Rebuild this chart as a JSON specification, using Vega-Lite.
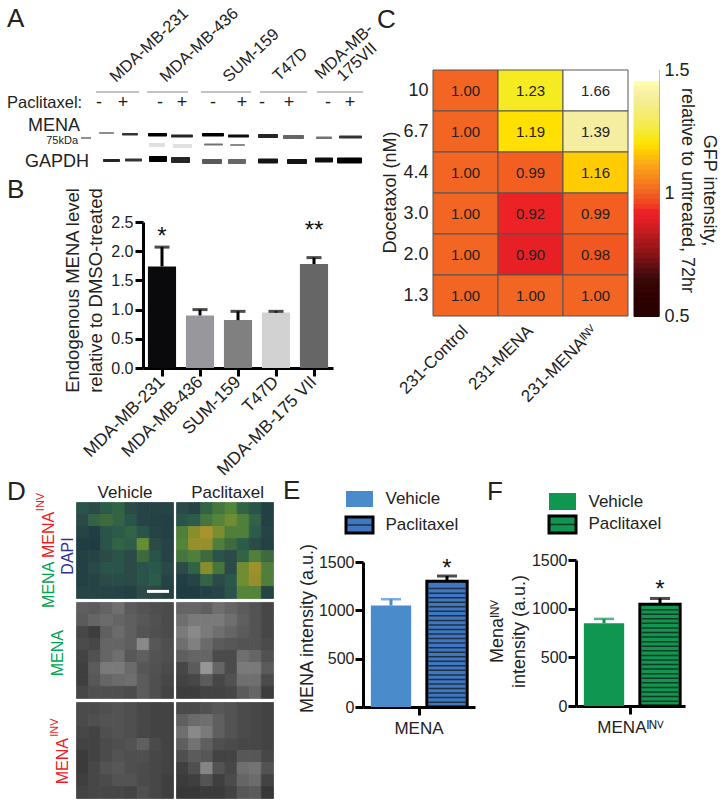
{"$schema":"https://vega.github.io/schema/vega-lite/v6.json","padding":0,"autosize":{"type":"pad"},"background":"white","bounds":"flush","spacing":0,
"config":{"view":{"stroke":null},"font":"Liberation Sans","text":{"font":"Liberation Sans","color":"#222"},"axis":{"grid":false,"labelOverlap":false,"labelFont":"Liberation Sans","titleFont":"Liberation Sans","titleFontWeight":"normal","labelColor":"#222","titleColor":"#222","domainColor":"#000","tickColor":"#000"},"title":{"font":"Liberation Sans","fontWeight":"normal","color":"#222","fontSize":26,"anchor":"start","frame":"group","offset":0,"baseline":"alphabetic"}},
"datasets":{
"colorImgs":[{"c":0,"r":0,"v":35},{"c":1,"r":0,"v":30},{"c":2,"r":0,"v":40},{"c":3,"r":0,"v":45},{"c":4,"r":0,"v":30},{"c":5,"r":0,"v":25},{"c":6,"r":0,"v":25},{"c":7,"r":0,"v":25},{"c":0,"r":1,"v":30},{"c":1,"r":1,"v":45},{"c":2,"r":1,"v":50},{"c":3,"r":1,"v":45},{"c":4,"r":1,"v":35},{"c":5,"r":1,"v":25},{"c":6,"r":1,"v":22},{"c":7,"r":1,"v":22},{"c":0,"r":2,"v":25},{"c":1,"r":2,"v":20},{"c":2,"r":2,"v":35},{"c":3,"r":2,"v":40},{"c":4,"r":2,"v":45},{"c":5,"r":2,"v":35},{"c":6,"r":2,"v":25},{"c":7,"r":2,"v":22},{"c":0,"r":3,"v":20},{"c":1,"r":3,"v":18},{"c":2,"r":3,"v":35},{"c":3,"r":3,"v":45},{"c":4,"r":3,"v":42},{"c":5,"r":3,"v":68},{"c":6,"r":3,"v":30},{"c":7,"r":3,"v":25},{"c":0,"r":4,"v":22},{"c":1,"r":4,"v":25},{"c":2,"r":4,"v":30},{"c":3,"r":4,"v":35},{"c":4,"r":4,"v":30},{"c":5,"r":4,"v":50},{"c":6,"r":4,"v":35},{"c":7,"r":4,"v":25},{"c":0,"r":5,"v":22},{"c":1,"r":5,"v":28},{"c":2,"r":5,"v":35},{"c":3,"r":5,"v":35},{"c":4,"r":5,"v":30},{"c":5,"r":5,"v":35},{"c":6,"r":5,"v":38},{"c":7,"r":5,"v":28},{"c":0,"r":6,"v":22},{"c":1,"r":6,"v":25},{"c":2,"r":6,"v":30},{"c":3,"r":6,"v":32},{"c":4,"r":6,"v":30},{"c":5,"r":6,"v":35},{"c":6,"r":6,"v":40},{"c":7,"r":6,"v":25},{"c":0,"r":7,"v":25},{"c":1,"r":7,"v":25},{"c":2,"r":7,"v":25},{"c":3,"r":7,"v":25},{"c":4,"r":7,"v":22},{"c":5,"r":7,"v":30},{"c":6,"r":7,"v":28},{"c":7,"r":7,"v":22},
{"c":8.25,"r":0,"v":30},{"c":9.25,"r":0,"v":25},{"c":10.25,"r":0,"v":45},{"c":11.25,"r":0,"v":55},{"c":12.25,"r":0,"v":62},{"c":13.25,"r":0,"v":45},{"c":14.25,"r":0,"v":35},{"c":15.25,"r":0,"v":22},{"c":8.25,"r":1,"v":35},{"c":9.25,"r":1,"v":40},{"c":10.25,"r":1,"v":55},{"c":11.25,"r":1,"v":62},{"c":12.25,"r":1,"v":70},{"c":13.25,"r":1,"v":60},{"c":14.25,"r":1,"v":45},{"c":15.25,"r":1,"v":22},{"c":8.25,"r":2,"v":60},{"c":9.25,"r":2,"v":75},{"c":10.25,"r":2,"v":85},{"c":11.25,"r":2,"v":72},{"c":12.25,"r":2,"v":60},{"c":13.25,"r":2,"v":60},{"c":14.25,"r":2,"v":40},{"c":15.25,"r":2,"v":25},{"c":8.25,"r":3,"v":62},{"c":9.25,"r":3,"v":78},{"c":10.25,"r":3,"v":78},{"c":11.25,"r":3,"v":60},{"c":12.25,"r":3,"v":50},{"c":13.25,"r":3,"v":40},{"c":14.25,"r":3,"v":30},{"c":15.25,"r":3,"v":22},{"c":8.25,"r":4,"v":55},{"c":9.25,"r":4,"v":60},{"c":10.25,"r":4,"v":50},{"c":11.25,"r":4,"v":35},{"c":12.25,"r":4,"v":30},{"c":13.25,"r":4,"v":45},{"c":14.25,"r":4,"v":60},{"c":15.25,"r":4,"v":50},{"c":8.25,"r":5,"v":30},{"c":9.25,"r":5,"v":45},{"c":10.25,"r":5,"v":75},{"c":11.25,"r":5,"v":55},{"c":12.25,"r":5,"v":30},{"c":13.25,"r":5,"v":70},{"c":14.25,"r":5,"v":80},{"c":15.25,"r":5,"v":60},{"c":8.25,"r":6,"v":20},{"c":9.25,"r":6,"v":25},{"c":10.25,"r":6,"v":45},{"c":11.25,"r":6,"v":30},{"c":12.25,"r":6,"v":38},{"c":13.25,"r":6,"v":70},{"c":14.25,"r":6,"v":78},{"c":15.25,"r":6,"v":60},{"c":8.25,"r":7,"v":18},{"c":9.25,"r":7,"v":18},{"c":10.25,"r":7,"v":22},{"c":11.25,"r":7,"v":25},{"c":12.25,"r":7,"v":35},{"c":13.25,"r":7,"v":62},{"c":14.25,"r":7,"v":62},{"c":15.25,"r":7,"v":25}],
"greyImgs":[{"c":0,"r":8.33,"v":42},{"c":1,"r":8.33,"v":40},{"c":2,"r":8.33,"v":44},{"c":3,"r":8.33,"v":50},{"c":4,"r":8.33,"v":40},{"c":5,"r":8.33,"v":36},{"c":6,"r":8.33,"v":34},{"c":7,"r":8.33,"v":32},{"c":0,"r":9.33,"v":40},{"c":1,"r":9.33,"v":45},{"c":2,"r":9.33,"v":48},{"c":3,"r":9.33,"v":45},{"c":4,"r":9.33,"v":42},{"c":5,"r":9.33,"v":38},{"c":6,"r":9.33,"v":35},{"c":7,"r":9.33,"v":32},{"c":0,"r":10.33,"v":30},{"c":1,"r":10.33,"v":25},{"c":2,"r":10.33,"v":42},{"c":3,"r":10.33,"v":48},{"c":4,"r":10.33,"v":42},{"c":5,"r":10.33,"v":36},{"c":6,"r":10.33,"v":34},{"c":7,"r":10.33,"v":32},{"c":0,"r":11.33,"v":32},{"c":1,"r":11.33,"v":30},{"c":2,"r":11.33,"v":45},{"c":3,"r":11.33,"v":45},{"c":4,"r":11.33,"v":42},{"c":5,"r":11.33,"v":62},{"c":6,"r":11.33,"v":38},{"c":7,"r":11.33,"v":34},{"c":0,"r":12.33,"v":28},{"c":1,"r":12.33,"v":35},{"c":2,"r":12.33,"v":45},{"c":3,"r":12.33,"v":50},{"c":4,"r":12.33,"v":38},{"c":5,"r":12.33,"v":42},{"c":6,"r":12.33,"v":36},{"c":7,"r":12.33,"v":34},{"c":0,"r":13.33,"v":26},{"c":1,"r":13.33,"v":40},{"c":2,"r":13.33,"v":55},{"c":3,"r":13.33,"v":55},{"c":4,"r":13.33,"v":48},{"c":5,"r":13.33,"v":38},{"c":6,"r":13.33,"v":35},{"c":7,"r":13.33,"v":32},{"c":0,"r":14.33,"v":26},{"c":1,"r":14.33,"v":38},{"c":2,"r":14.33,"v":45},{"c":3,"r":14.33,"v":48},{"c":4,"r":14.33,"v":50},{"c":5,"r":14.33,"v":40},{"c":6,"r":14.33,"v":34},{"c":7,"r":14.33,"v":30},{"c":0,"r":15.33,"v":30},{"c":1,"r":15.33,"v":34},{"c":2,"r":15.33,"v":34},{"c":3,"r":15.33,"v":34},{"c":4,"r":15.33,"v":32},{"c":5,"r":15.33,"v":40},{"c":6,"r":15.33,"v":34},{"c":7,"r":15.33,"v":28},
{"c":8.25,"r":8.33,"v":45},{"c":9.25,"r":8.33,"v":45},{"c":10.25,"r":8.33,"v":42},{"c":11.25,"r":8.33,"v":50},{"c":12.25,"r":8.33,"v":45},{"c":13.25,"r":8.33,"v":40},{"c":14.25,"r":8.33,"v":36},{"c":15.25,"r":8.33,"v":30},{"c":8.25,"r":9.33,"v":50},{"c":9.25,"r":9.33,"v":55},{"c":10.25,"r":9.33,"v":55},{"c":11.25,"r":9.33,"v":55},{"c":12.25,"r":9.33,"v":50},{"c":13.25,"r":9.33,"v":42},{"c":14.25,"r":9.33,"v":36},{"c":15.25,"r":9.33,"v":30},{"c":8.25,"r":10.33,"v":55},{"c":9.25,"r":10.33,"v":62},{"c":10.25,"r":10.33,"v":55},{"c":11.25,"r":10.33,"v":50},{"c":12.25,"r":10.33,"v":45},{"c":13.25,"r":10.33,"v":40},{"c":14.25,"r":10.33,"v":36},{"c":15.25,"r":10.33,"v":30},{"c":8.25,"r":11.33,"v":50},{"c":9.25,"r":11.33,"v":58},{"c":10.25,"r":11.33,"v":48},{"c":11.25,"r":11.33,"v":40},{"c":12.25,"r":11.33,"v":38},{"c":13.25,"r":11.33,"v":36},{"c":14.25,"r":11.33,"v":36},{"c":15.25,"r":11.33,"v":32},{"c":8.25,"r":12.33,"v":42},{"c":9.25,"r":12.33,"v":45},{"c":10.25,"r":12.33,"v":45},{"c":11.25,"r":12.33,"v":32},{"c":12.25,"r":12.33,"v":32},{"c":13.25,"r":12.33,"v":50},{"c":14.25,"r":12.33,"v":45},{"c":15.25,"r":12.33,"v":35},{"c":8.25,"r":13.33,"v":30},{"c":9.25,"r":13.33,"v":40},{"c":10.25,"r":13.33,"v":68},{"c":11.25,"r":13.33,"v":45},{"c":12.25,"r":13.33,"v":32},{"c":13.25,"r":13.33,"v":55},{"c":14.25,"r":13.33,"v":55},{"c":15.25,"r":13.33,"v":40},{"c":8.25,"r":14.33,"v":28},{"c":9.25,"r":14.33,"v":30},{"c":10.25,"r":14.33,"v":40},{"c":11.25,"r":14.33,"v":30},{"c":12.25,"r":14.33,"v":35},{"c":13.25,"r":14.33,"v":50},{"c":14.25,"r":14.33,"v":50},{"c":15.25,"r":14.33,"v":32},{"c":8.25,"r":15.33,"v":25},{"c":9.25,"r":15.33,"v":25},{"c":10.25,"r":15.33,"v":28},{"c":11.25,"r":15.33,"v":28},{"c":12.25,"r":15.33,"v":30},{"c":13.25,"r":15.33,"v":40},{"c":14.25,"r":15.33,"v":45},{"c":15.25,"r":15.33,"v":25},
{"c":0,"r":16.67,"v":32},{"c":1,"r":16.67,"v":32},{"c":2,"r":16.67,"v":34},{"c":3,"r":16.67,"v":36},{"c":4,"r":16.67,"v":34},{"c":5,"r":16.67,"v":30},{"c":6,"r":16.67,"v":28},{"c":7,"r":16.67,"v":28},{"c":0,"r":17.67,"v":32},{"c":1,"r":17.67,"v":34},{"c":2,"r":17.67,"v":36},{"c":3,"r":17.67,"v":36},{"c":4,"r":17.67,"v":34},{"c":5,"r":17.67,"v":30},{"c":6,"r":17.67,"v":28},{"c":7,"r":17.67,"v":28},{"c":0,"r":18.67,"v":30},{"c":1,"r":18.67,"v":28},{"c":2,"r":18.67,"v":34},{"c":3,"r":18.67,"v":36},{"c":4,"r":18.67,"v":34},{"c":5,"r":18.67,"v":30},{"c":6,"r":18.67,"v":28},{"c":7,"r":18.67,"v":28},{"c":0,"r":19.67,"v":28},{"c":1,"r":19.67,"v":28},{"c":2,"r":19.67,"v":32},{"c":3,"r":19.67,"v":34},{"c":4,"r":19.67,"v":36},{"c":5,"r":19.67,"v":42},{"c":6,"r":19.67,"v":32},{"c":7,"r":19.67,"v":28},{"c":0,"r":20.67,"v":24},{"c":1,"r":20.67,"v":28},{"c":2,"r":20.67,"v":32},{"c":3,"r":20.67,"v":36},{"c":4,"r":20.67,"v":34},{"c":5,"r":20.67,"v":34},{"c":6,"r":20.67,"v":30},{"c":7,"r":20.67,"v":28},{"c":0,"r":21.67,"v":24},{"c":1,"r":21.67,"v":30},{"c":2,"r":21.67,"v":36},{"c":3,"r":21.67,"v":38},{"c":4,"r":21.67,"v":34},{"c":5,"r":21.67,"v":32},{"c":6,"r":21.67,"v":30},{"c":7,"r":21.67,"v":28},{"c":0,"r":22.67,"v":26},{"c":1,"r":22.67,"v":30},{"c":2,"r":22.67,"v":32},{"c":3,"r":22.67,"v":36},{"c":4,"r":22.67,"v":36},{"c":5,"r":22.67,"v":32},{"c":6,"r":22.67,"v":30},{"c":7,"r":22.67,"v":26},{"c":0,"r":23.67,"v":28},{"c":1,"r":23.67,"v":30},{"c":2,"r":23.67,"v":30},{"c":3,"r":23.67,"v":30},{"c":4,"r":23.67,"v":28},{"c":5,"r":23.67,"v":34},{"c":6,"r":23.67,"v":30},{"c":7,"r":23.67,"v":26},
{"c":8.25,"r":16.67,"v":32},{"c":9.25,"r":16.67,"v":32},{"c":10.25,"r":16.67,"v":35},{"c":11.25,"r":16.67,"v":38},{"c":12.25,"r":16.67,"v":36},{"c":13.25,"r":16.67,"v":32},{"c":14.25,"r":16.67,"v":30},{"c":15.25,"r":16.67,"v":28},{"c":8.25,"r":17.67,"v":42},{"c":9.25,"r":17.67,"v":48},{"c":10.25,"r":17.67,"v":50},{"c":11.25,"r":17.67,"v":42},{"c":12.25,"r":17.67,"v":36},{"c":13.25,"r":17.67,"v":32},{"c":14.25,"r":17.67,"v":30},{"c":15.25,"r":17.67,"v":28},{"c":8.25,"r":18.67,"v":50},{"c":9.25,"r":18.67,"v":62},{"c":10.25,"r":18.67,"v":55},{"c":11.25,"r":18.67,"v":42},{"c":12.25,"r":18.67,"v":36},{"c":13.25,"r":18.67,"v":32},{"c":14.25,"r":18.67,"v":30},{"c":15.25,"r":18.67,"v":28},{"c":8.25,"r":19.67,"v":42},{"c":9.25,"r":19.67,"v":52},{"c":10.25,"r":19.67,"v":42},{"c":11.25,"r":19.67,"v":34},{"c":12.25,"r":19.67,"v":32},{"c":13.25,"r":19.67,"v":30},{"c":14.25,"r":19.67,"v":30},{"c":15.25,"r":19.67,"v":28},{"c":8.25,"r":20.67,"v":34},{"c":9.25,"r":20.67,"v":40},{"c":10.25,"r":20.67,"v":38},{"c":11.25,"r":20.67,"v":28},{"c":12.25,"r":20.67,"v":28},{"c":13.25,"r":20.67,"v":38},{"c":14.25,"r":20.67,"v":38},{"c":15.25,"r":20.67,"v":30},{"c":8.25,"r":21.67,"v":26},{"c":9.25,"r":21.67,"v":34},{"c":10.25,"r":21.67,"v":60},{"c":11.25,"r":21.67,"v":36},{"c":12.25,"r":21.67,"v":30},{"c":13.25,"r":21.67,"v":50},{"c":14.25,"r":21.67,"v":52},{"c":15.25,"r":21.67,"v":36},{"c":8.25,"r":22.67,"v":24},{"c":9.25,"r":22.67,"v":26},{"c":10.25,"r":22.67,"v":36},{"c":11.25,"r":22.67,"v":26},{"c":12.25,"r":22.67,"v":32},{"c":13.25,"r":22.67,"v":45},{"c":14.25,"r":22.67,"v":48},{"c":15.25,"r":22.67,"v":28},{"c":8.25,"r":23.67,"v":22},{"c":9.25,"r":23.67,"v":22},{"c":10.25,"r":23.67,"v":24},{"c":11.25,"r":23.67,"v":24},{"c":12.25,"r":23.67,"v":28},{"c":13.25,"r":23.67,"v":38},{"c":14.25,"r":23.67,"v":40},{"c":15.25,"r":23.67,"v":22}],
"heat":[{"line":"231-Control","dose":"10","v":1},{"line":"231-Control","dose":"6.7","v":1},{"line":"231-Control","dose":"4.4","v":1},{"line":"231-Control","dose":"3.0","v":1},{"line":"231-Control","dose":"2.0","v":1},{"line":"231-Control","dose":"1.3","v":1},{"line":"231-MENA","dose":"10","v":1.23},{"line":"231-MENA","dose":"6.7","v":1.19},{"line":"231-MENA","dose":"4.4","v":0.99},{"line":"231-MENA","dose":"3.0","v":0.92},{"line":"231-MENA","dose":"2.0","v":0.9},{"line":"231-MENA","dose":"1.3","v":1},{"line":"231-MENAᴵᴺⱽ","dose":"10","v":1.66},{"line":"231-MENAᴵᴺⱽ","dose":"6.7","v":1.39},{"line":"231-MENAᴵᴺⱽ","dose":"4.4","v":1.16},{"line":"231-MENAᴵᴺⱽ","dose":"3.0","v":0.99},{"line":"231-MENAᴵᴺⱽ","dose":"2.0","v":0.98},{"line":"231-MENAᴵᴺⱽ","dose":"1.3","v":1}],
"bars":[{"line":"MDA-MB-231","v":1.74,"hi":2.07,"star":"*","pos":2.35},{"line":"MDA-MB-436","v":0.9,"hi":1.0},{"line":"SUM-159","v":0.82,"hi":0.97},{"line":"T47D","v":0.95,"hi":0.97},{"line":"MDA-MB-175 VII","v":1.78,"hi":1.89,"star":"**","pos":2.45}],
"eBars":[{"gene":"MENA","series":"Vehicle","v":1050,"hi":1115},{"gene":"MENA","series":"Paclitaxel","v":1300,"hi":1355,"star":"*","pos":1490}],
"fBars":[{"gene":"MENAᴵᴺⱽ","series":"Vehicle","v":850,"hi":895},{"gene":"MENAᴵᴺⱽ","series":"Paclitaxel","v":1045,"hi":1105,"star":"*","pos":1253}],
"series":[{"series":"Vehicle"},{"series":"Paclitaxel"}]
},
"vconcat":[
{"bounds":"flush","spacing":0,"vconcat":[{"width":370,"height":222,"title":{"text":"A","dx":7,"dy":36},
 "encoding":{"x":{"field":"x","type":"quantitative","scale":{"domain":[0,37],"nice":false,"zero":false},"axis":null},"y":{"field":"y","type":"quantitative","scale":{"domain":[22.2,0],"nice":false,"zero":false},"axis":null}},
 "layer":[
 {"data":{"values":[{"x":9.6,"x2":13.9,"y":9.2},{"x":14.7,"x2":18.8,"y":9.2},{"x":20.1,"x2":25.1,"y":9.2},{"x":26,"x2":30.7,"y":9.2},{"x":31.7,"x2":36.3,"y":9.2}]},"mark":{"type":"rule","color":"#888","strokeWidth":1},"encoding":{"x2":{"field":"x2"}}},
 {"data":{"values":[{"x":8.1,"x2":9.1,"y":13.8}]},"mark":{"type":"rule","color":"#222","strokeWidth":1},"encoding":{"x2":{"field":"x2"}}},
 {"data":{"values":[{"x":9.9,"x2":11.4,"y":13.2,"y2":13.4,"v":0.45},{"x":12.2,"x2":13.8,"y":13.3,"y2":13.55,"v":0.8},{"x":14.8,"x2":16.7,"y":13.3,"y2":13.65,"v":1},{"x":17.1,"x2":19.3,"y":13.45,"y2":13.75,"v":0.85},{"x":20.2,"x2":22.4,"y":13.3,"y2":13.65,"v":1},{"x":22.8,"x2":24.9,"y":13.45,"y2":13.75,"v":0.95},{"x":25.8,"x2":27.8,"y":13.4,"y2":13.8,"v":0.85},{"x":28.3,"x2":30.4,"y":13.5,"y2":13.9,"v":0.6},{"x":31.6,"x2":33.2,"y":13.65,"y2":13.9,"v":0.55},{"x":33.9,"x2":36.2,"y":13.55,"y2":13.85,"v":0.8},{"x":14.9,"x2":16.5,"y":14.3,"y2":14.7,"v":0.12},{"x":17.3,"x2":19.2,"y":14.4,"y2":14.8,"v":0.12},{"x":20.4,"x2":22.3,"y":14.35,"y2":14.55,"v":0.55},{"x":23,"x2":24.5,"y":14.4,"y2":14.6,"v":0.45},{"x":10.3,"x2":12,"y":15.9,"y2":16.2,"v":0.85},{"x":12.5,"x2":14.2,"y":15.85,"y2":16.15,"v":0.8},{"x":14.9,"x2":16.7,"y":15.6,"y2":16.2,"v":1},{"x":17.1,"x2":19,"y":15.7,"y2":16.3,"v":0.85},{"x":20.2,"x2":22.2,"y":15.9,"y2":16.4,"v":0.65},{"x":22.8,"x2":24.6,"y":15.9,"y2":16.4,"v":0.6},{"x":25.8,"x2":27.8,"y":15.85,"y2":16.35,"v":0.92},{"x":28.7,"x2":30.7,"y":15.9,"y2":16.4,"v":0.92},{"x":31.5,"x2":33.3,"y":15.75,"y2":16.25,"v":0.95},{"x":33.7,"x2":36.2,"y":15.75,"y2":16.35,"v":1}]},"mark":{"type":"rect","color":"#000","cornerRadius":1},"encoding":{"x2":{"field":"x2"},"y2":{"field":"y2"},"opacity":{"field":"v","type":"quantitative","scale":{"domain":[0,1],"range":[0,1]},"legend":null}}},
 {"data":{"values":[{"x":11.6,"y":8.3,"t":"MDA-MB-231"},{"x":16.6,"y":8.3,"t":"MDA-MB-436"},{"x":22.9,"y":8.3,"t":"SUM-159"},{"x":27.9,"y":8.2,"t":"T47D"},{"x":32.1,"y":8,"t":"MDA-MB-"},{"x":34.3,"y":8.2,"t":"175VII"}]},"mark":{"type":"text","angle":-43,"align":"left","baseline":"alphabetic","fontSize":16.5},"encoding":{"text":{"field":"t"}}},
 {"data":{"values":[{"x":9.9,"y":10.8,"t":"-"},{"x":12.3,"y":10.8,"t":"+"},{"x":16,"y":10.8,"t":"-"},{"x":18.2,"y":10.8,"t":"+"},{"x":21.3,"y":10.8,"t":"-"},{"x":24.2,"y":10.8,"t":"+"},{"x":26.2,"y":10.8,"t":"-"},{"x":28.9,"y":10.8,"t":"+"},{"x":32.8,"y":10.8,"t":"-"},{"x":35,"y":10.8,"t":"+"}]},"mark":{"type":"text","align":"center","baseline":"alphabetic","fontSize":18},"encoding":{"text":{"field":"t"}}},
 {"data":{"values":[{"x":0.7,"y":10.8,"t":"Paclitaxel:"}]},"mark":{"type":"text","align":"left","baseline":"alphabetic","fontSize":16.5},"encoding":{"text":{"field":"t"}}},
 {"data":{"values":[{"x":5.4,"y":13.1,"t":"MENA"},{"x":5.7,"y":16.7,"t":"GAPDH"}]},"mark":{"type":"text","align":"center","baseline":"alphabetic","fontSize":18},"encoding":{"text":{"field":"t"}}},
 {"data":{"values":[{"x":7.8,"y":14.4,"t":"75kDa"}]},"mark":{"type":"text","align":"right","baseline":"alphabetic","fontSize":11},"encoding":{"text":{"field":"t"}}}
 ]}]},
{"bounds":"flush","spacing":0,"vconcat":[{"width":1,"height":222,"data":{"values":[]},"mark":"point"},{"bounds":"flush","spacing":0,"hconcat":[{"width":143,"height":1,"data":{"values":[]},"mark":"point"},
{"width":190,"height":146,"title":{"text":"B","dx":-136,"dy":20},"data":{"name":"bars"},
 "encoding":{"x":{"field":"line","type":"nominal","sort":null,"title":null,"scale":{"paddingInner":0.26,"paddingOuter":0.13},"axis":{"labelAngle":-45,"labelAlign":"right","labelBaseline":"middle","labelFontSize":17.5,"labelPadding":3,"tickSize":8,"tickWidth":3,"domainWidth":3}}},
 "layer":[
 {"mark":{"type":"bar"},"encoding":{"y":{"field":"v","type":"quantitative","scale":{"domain":[0,2.5],"nice":false},"title":["Endogenous MENA level","relative to DMSO-treated"],"axis":{"values":[0,0.5,1,1.5,2,2.5],"format":".1f","labelFontSize":16,"labelPadding":2,"tickSize":8,"tickWidth":3,"domainWidth":3,"titleFontSize":18.5,"titleLineHeight":23,"titleAngle":-90,"titleBaseline":"alphabetic","titleAlign":"center","titleX":-65,"titleY":68}},"color":{"field":"line","type":"nominal","sort":null,"scale":{"range":["#0a0a0c","#98989c","#808080","#d2d2d2","#666666"]},"legend":null}}},
 {"mark":{"type":"rule","color":"#000","strokeWidth":3},"encoding":{"y":{"field":"v","type":"quantitative","axis":{"values":[0,0.5,1,1.5,2,2.5]}},"y2":{"field":"hi"}}},
 {"mark":{"type":"tick","color":"#000","size":15,"thickness":3},"encoding":{"y":{"field":"hi","type":"quantitative","axis":{"values":[0,0.5,1,1.5,2,2.5]}}}},
 {"transform":[{"filter":"datum.star"}],"mark":{"type":"text","fontSize":24,"baseline":"middle","dy":6,"color":"#111"},"encoding":{"y":{"field":"pos","type":"quantitative","axis":{"values":[0,0.5,1,1.5,2,2.5]}},"text":{"field":"star"}}}
 ]}]}]},
{"bounds":"flush","spacing":0,"vconcat":[{"width":1,"height":70,"data":{"values":[]},"mark":"point"},{"bounds":"flush","spacing":0,"hconcat":[{"width":433,"height":1,"data":{"values":[]},"mark":"point"},
{"width":195,"height":246,"title":{"text":"C","dx":-56,"dy":-33},"data":{"name":"heat"},
 "encoding":{"x":{"field":"line","type":"nominal","sort":null,"title":null,"scale":{"paddingInner":0,"paddingOuter":0},"axis":{"labelAngle":-45,"labelAlign":"right","labelBaseline":"middle","labelFontSize":17,"labelPadding":12,"domain":false,"ticks":false}},"y":{"field":"dose","type":"ordinal","sort":null,"title":"Docetaxol (nM)","scale":{"paddingInner":0,"paddingOuter":0},"axis":{"labelFontSize":18,"labelPadding":5,"domain":false,"ticks":false,"titleFontSize":18,"titleBaseline":"alphabetic","titleX":-38,"titleY":122}}},
 "layer":[
 {"mark":{"type":"rect","stroke":"#555","strokeWidth":1},"encoding":{"color":{"field":"v","type":"quantitative","scale":{"type":"linear","clamp":true,"domain":[0.5,0.65,0.75,0.88,0.92,1,1.1,1.19,1.23,1.39,1.46,1.5],"range":["#000000","#3a0a0a","#8c1416","#e01f26","#ed2224","#f26522","#f9a11b","#ffe000","#f6ea20","#f5eea0","#ffffff","#ffffff"]},"legend":null}}},
 {"mark":{"type":"text","fontSize":15,"color":"#222"},"encoding":{"text":{"field":"v","type":"quantitative","format":".2f"}}}
 ]}]}]},
{"bounds":"flush","spacing":0,"vconcat":[{"width":1,"height":70,"data":{"values":[]},"mark":"point"},{"bounds":"flush","spacing":0,"hconcat":[{"width":634,"height":1,"data":{"values":[]},"mark":"point"},
{"width":25,"height":246,"view":{"stroke":"#888"},"data":{"values":[{"v":0.5},{"v":0.52},{"v":0.54},{"v":0.56},{"v":0.58},{"v":0.6},{"v":0.62},{"v":0.64},{"v":0.66},{"v":0.68},{"v":0.7},{"v":0.72},{"v":0.74},{"v":0.76},{"v":0.78},{"v":0.8},{"v":0.82},{"v":0.84},{"v":0.86},{"v":0.88},{"v":0.9},{"v":0.92},{"v":0.94},{"v":0.96},{"v":0.98},{"v":1},{"v":1.02},{"v":1.04},{"v":1.06},{"v":1.08},{"v":1.1},{"v":1.12},{"v":1.14},{"v":1.16},{"v":1.18},{"v":1.2},{"v":1.22},{"v":1.24},{"v":1.26},{"v":1.28},{"v":1.3},{"v":1.32},{"v":1.34},{"v":1.36},{"v":1.38},{"v":1.4},{"v":1.42},{"v":1.44},{"v":1.46},{"v":1.48}]},
 "mark":{"type":"rect","binSpacing":0,"strokeWidth":1},"encoding":{"y":{"field":"v","type":"quantitative","bin":{"binned":true,"step":0.02},"scale":{"domain":[0.5,1.5],"nice":false,"zero":false},"title":["GFP intensity,","relative to untreated, 72hr"],"axis":{"orient":"right","values":[0.5,1,1.5],"format":"~g","labelFontSize":18,"labelPadding":5,"domain":false,"ticks":false,"titleFontSize":18,"titleAngle":90,"titleLineHeight":22,"titleBaseline":"alphabetic","titleAlign":"center","titleX":44,"titleY":120}},"color":{"field":"v","type":"quantitative","scale":{"type":"linear","clamp":true,"domain":[0.5,0.65,0.75,0.88,0.92,1,1.1,1.19,1.23,1.39,1.46,1.5],"range":["#000000","#3a0a0a","#8c1416","#e01f26","#ed2224","#f26522","#f9a11b","#ffe000","#f6ea20","#f5eea0","#ffffff","#ffffff"]},"legend":null},"stroke":{"field":"v","type":"quantitative","scale":{"type":"linear","clamp":true,"domain":[0.5,0.65,0.75,0.88,0.92,1,1.1,1.19,1.23,1.39,1.46,1.5],"range":["#000000","#3a0a0a","#8c1416","#e01f26","#ed2224","#f26522","#f9a11b","#ffe000","#f6ea20","#f5eea0","#ffffff","#ffffff"]},"legend":null}}}]}]},
{"bounds":"flush","spacing":0,"vconcat":[{"width":1,"height":502,"data":{"values":[]},"mark":"point"},{"bounds":"flush","spacing":0,"hconcat":[{"width":76,"height":1,"data":{"values":[]},"mark":"point"},
{"width":197,"height":296,"title":{"text":"D","dx":-69,"dy":25},
 "encoding":{"x":{"field":"c","type":"quantitative","scale":{"domain":[0,16.25],"nice":false,"zero":false},"axis":null,"title":null},"y":{"field":"r","type":"quantitative","scale":{"domain":[24.67,0],"nice":false,"zero":false},"axis":null,"title":null}},
 "resolve":{"scale":{"color":"independent","stroke":"independent"}},
 "layer":[
 {"data":{"name":"colorImgs"},"mark":{"type":"rect","binSpacing":0,"strokeWidth":0.8},"encoding":{"x":{"field":"c","type":"quantitative","bin":{"binned":true,"step":1},"axis":null,"title":null},"y":{"field":"r","type":"quantitative","bin":{"binned":true,"step":1},"axis":null,"title":null},"color":{"field":"v","type":"quantitative","scale":{"domain":[0,30,50,65,80,100],"range":["#1a2636","#2c4a48","#3e6a3e","#5a8a38","#a08f2d","#c9a030"]},"legend":null},"stroke":{"field":"v","type":"quantitative","scale":{"domain":[0,30,50,65,80,100],"range":["#1a2636","#2c4a48","#3e6a3e","#5a8a38","#a08f2d","#c9a030"]},"legend":null}}},
 {"data":{"name":"greyImgs"},"mark":{"type":"rect","binSpacing":0,"strokeWidth":0.8},"encoding":{"x":{"field":"c","type":"quantitative","bin":{"binned":true,"step":1},"axis":null,"title":null},"y":{"field":"r","type":"quantitative","bin":{"binned":true,"step":1},"axis":null,"title":null},"color":{"field":"v","type":"quantitative","scale":{"domain":[0,100],"range":["#101010","#e0e0e0"]},"legend":null},"stroke":{"field":"v","type":"quantitative","scale":{"domain":[0,100],"range":["#101010","#e0e0e0"]},"legend":null}}},
 {"data":{"values":[{"c":5.86,"c2":7.67,"r":7.45}]},"mark":{"type":"rule","color":"#fff","strokeWidth":3},"encoding":{"x2":{"field":"c2"}}},
 {"data":{"values":[{"c":4.04,"r":-0.33,"t":"Vehicle"},{"c":12.5,"r":-0.33,"t":"Paclitaxel"}]},"mark":{"type":"text","fontSize":17,"align":"center","baseline":"alphabetic"},"encoding":{"text":{"field":"t"}}},
 {"data":{"values":[{"c":-1.8,"r":6.9,"t":"MENA","stain":"MENA"},{"c":-1.8,"r":2.75,"t":"MENA","stain":"INV"},{"c":-0.25,"r":4.5,"t":"DAPI","stain":"DAPI"},{"c":-1.07,"r":12.6,"t":"MENA","stain":"MENA"},{"c":-0.66,"r":21.6,"t":"MENA","stain":"INV"}]},"mark":{"type":"text","fontSize":16,"angle":-90,"align":"center","baseline":"alphabetic"},"encoding":{"text":{"field":"t"},"color":{"field":"stain","type":"nominal","scale":{"domain":["MENA","INV","DAPI"],"range":["#00a651","#ed1c24","#2e3192"]},"legend":null}}},
 {"data":{"values":[{"c":-2.6,"r":0,"t":"INV"},{"c":-1.5,"r":18.8,"t":"INV"}]},"mark":{"type":"text","fontSize":11,"angle":-90,"align":"center","baseline":"alphabetic","color":"#ed1c24"},"encoding":{"text":{"field":"t"}}}
 ]}]}]},
{"bounds":"flush","spacing":0,"vconcat":[{"width":1,"height":491,"data":{"values":[]},"mark":"point"},{"bounds":"flush","spacing":0,"hconcat":[{"width":346,"height":1,"data":{"values":[]},"mark":"point"},
{"width":27,"height":42,"data":{"name":"series"},"encoding":{"y":{"field":"series","type":"nominal","sort":null,"title":null,"scale":{"domain":["Vehicle","Paclitaxel"],"paddingInner":0.385,"paddingOuter":0},"axis":{"orient":"right","domain":false,"ticks":false,"labelFontSize":17,"labelPadding":12}}},
 "layer":[{"mark":{"type":"rect","strokeWidth":3},"encoding":{"fill":{"field":"series","type":"nominal","scale":{"domain":["Vehicle","Paclitaxel"],"range":["#4a8ccb","#3f78c0"]},"legend":null},"stroke":{"field":"series","type":"nominal","scale":{"domain":["Vehicle","Paclitaxel"],"range":["rgba(0,0,0,0)","#000000"]},"legend":null}}},
 {"transform":[{"filter":"datum.series==='Paclitaxel'"}],"mark":{"type":"tick","orient":"horizontal","color":"#111","size":27,"thickness":1.5}}]}]}]},
{"bounds":"flush","spacing":0,"vconcat":[{"width":1,"height":562,"data":{"values":[]},"mark":"point"},{"bounds":"flush","spacing":0,"hconcat":[{"width":363,"height":1,"data":{"values":[]},"mark":"point"},
{"width":112,"height":145,"title":{"text":"E","dx":-80,"dy":-35},
 "encoding":{"x":{"field":"gene","type":"nominal","title":null,"scale":{"paddingInner":0,"paddingOuter":0},"axis":{"labelAngle":0,"labelFontSize":17,"labelPadding":5,"tickSize":8,"tickWidth":3,"domainWidth":3}},"xOffset":{"field":"series","type":"nominal","scale":{"domain":["Vehicle","Paclitaxel"],"paddingInner":0.28,"paddingOuter":0.14}}},
 "layer":[
 {"data":{"name":"eBars"},"mark":{"type":"bar","strokeWidth":3},"encoding":{"y":{"field":"v","type":"quantitative","scale":{"domain":[0,1500],"nice":false},"title":"MENA intensity (a.u.)","axis":{"values":[0,500,1000,1500],"format":"d","labelFontSize":16,"labelPadding":1,"tickSize":8,"tickWidth":3,"domainWidth":3,"titleFontSize":18,"titleBaseline":"alphabetic","titleX":-51,"titleY":66}},"fill":{"field":"series","type":"nominal","scale":{"domain":["Vehicle","Paclitaxel"],"range":["#4a8ccb","#3f78c0"]},"legend":null},"stroke":{"field":"series","type":"nominal","scale":{"domain":["Vehicle","Paclitaxel"],"range":["rgba(0,0,0,0)","#000000"]},"legend":null}}},
 {"data":{"name":"eBars"},"transform":[{"filter":"datum.series==='Vehicle'"}],"mark":{"type":"rule","color":"#4a8ccb","strokeWidth":3},"encoding":{"y":{"field":"v","type":"quantitative"},"y2":{"field":"hi"}}},
 {"data":{"name":"eBars"},"transform":[{"filter":"datum.series==='Vehicle'"}],"mark":{"type":"tick","color":"#4a8ccb","size":20,"thickness":2.5},"encoding":{"y":{"field":"hi","type":"quantitative"}}},
 {"data":{"name":"eBars"},"transform":[{"filter":"datum.series==='Paclitaxel'"}],"mark":{"type":"rule","color":"#000","strokeWidth":3},"encoding":{"y":{"field":"v","type":"quantitative"},"y2":{"field":"hi"}}},
 {"data":{"name":"eBars"},"transform":[{"filter":"datum.series==='Paclitaxel'"}],"mark":{"type":"tick","color":"#000","size":20,"thickness":3},"encoding":{"y":{"field":"hi","type":"quantitative"}}},
 {"data":{"values":[{"gene":"MENA","series":"Paclitaxel","y":50},{"gene":"MENA","series":"Paclitaxel","y":97},{"gene":"MENA","series":"Paclitaxel","y":144},{"gene":"MENA","series":"Paclitaxel","y":191},{"gene":"MENA","series":"Paclitaxel","y":238},{"gene":"MENA","series":"Paclitaxel","y":285},{"gene":"MENA","series":"Paclitaxel","y":332},{"gene":"MENA","series":"Paclitaxel","y":379},{"gene":"MENA","series":"Paclitaxel","y":426},{"gene":"MENA","series":"Paclitaxel","y":473},{"gene":"MENA","series":"Paclitaxel","y":520},{"gene":"MENA","series":"Paclitaxel","y":567},{"gene":"MENA","series":"Paclitaxel","y":614},{"gene":"MENA","series":"Paclitaxel","y":661},{"gene":"MENA","series":"Paclitaxel","y":708},{"gene":"MENA","series":"Paclitaxel","y":755},{"gene":"MENA","series":"Paclitaxel","y":802},{"gene":"MENA","series":"Paclitaxel","y":849},{"gene":"MENA","series":"Paclitaxel","y":896},{"gene":"MENA","series":"Paclitaxel","y":943},{"gene":"MENA","series":"Paclitaxel","y":990},{"gene":"MENA","series":"Paclitaxel","y":1037},{"gene":"MENA","series":"Paclitaxel","y":1084},{"gene":"MENA","series":"Paclitaxel","y":1131},{"gene":"MENA","series":"Paclitaxel","y":1178},{"gene":"MENA","series":"Paclitaxel","y":1225}]},"mark":{"type":"tick","color":"#111","size":37,"thickness":1.5},"encoding":{"y":{"field":"y","type":"quantitative"}}},
 {"data":{"name":"eBars"},"transform":[{"filter":"datum.star"}],"mark":{"type":"text","fontSize":24,"baseline":"middle","dy":6,"color":"#111"},"encoding":{"y":{"field":"pos","type":"quantitative"},"text":{"field":"star"}}}
 ]}]}]},
{"bounds":"flush","spacing":0,"vconcat":[{"width":1,"height":493,"data":{"values":[]},"mark":"point"},{"bounds":"flush","spacing":0,"hconcat":[{"width":549,"height":1,"data":{"values":[]},"mark":"point"},
{"width":27,"height":40,"data":{"name":"series"},"encoding":{"y":{"field":"series","type":"nominal","sort":null,"title":null,"scale":{"domain":["Vehicle","Paclitaxel"],"paddingInner":0.26,"paddingOuter":0},"axis":{"orient":"right","domain":false,"ticks":false,"labelFontSize":17,"labelPadding":12}}},
 "layer":[{"mark":{"type":"rect","strokeWidth":3,"fill":"#0f9650"},"encoding":{"stroke":{"field":"series","type":"nominal","scale":{"domain":["Vehicle","Paclitaxel"],"range":["rgba(0,0,0,0)","#000000"]},"legend":null}}},
 {"transform":[{"filter":"datum.series==='Paclitaxel'"}],"mark":{"type":"tick","orient":"horizontal","color":"#111","size":27,"thickness":1.5}}]}]}]},
{"bounds":"flush","spacing":0,"vconcat":[{"width":1,"height":560,"data":{"values":[]},"mark":"point"},{"bounds":"flush","spacing":0,"hconcat":[{"width":576,"height":1,"data":{"values":[]},"mark":"point"},
{"width":109,"height":146,"title":{"text":"F","dx":-89,"dy":-43},
 "encoding":{"x":{"field":"gene","type":"nominal","title":null,"scale":{"paddingInner":0,"paddingOuter":0},"axis":{"labelAngle":0,"labelFontSize":17,"labelPadding":5,"tickSize":8,"tickWidth":3,"domainWidth":3}},"xOffset":{"field":"series","type":"nominal","scale":{"domain":["Vehicle","Paclitaxel"],"paddingInner":0.28,"paddingOuter":0.14}}},
 "layer":[
 {"data":{"name":"fBars"},"mark":{"type":"bar","strokeWidth":3,"fill":"#0f9650"},"encoding":{"y":{"field":"v","type":"quantitative","scale":{"domain":[0,1500],"nice":false},"title":["Menaᴵᴺⱽ","intensity (a.u.)"],"axis":{"values":[0,500,1000,1500],"format":"d","labelFontSize":16,"labelPadding":1,"tickSize":8,"tickWidth":3,"domainWidth":3,"titleFontSize":18,"titleLineHeight":22,"titleBaseline":"alphabetic","titleX":-74,"titleY":71}},"stroke":{"field":"series","type":"nominal","scale":{"domain":["Vehicle","Paclitaxel"],"range":["rgba(0,0,0,0)","#000000"]},"legend":null}}},
 {"data":{"name":"fBars"},"transform":[{"filter":"datum.series==='Vehicle'"}],"mark":{"type":"rule","color":"#0f9650","strokeWidth":3},"encoding":{"y":{"field":"v","type":"quantitative"},"y2":{"field":"hi"}}},
 {"data":{"name":"fBars"},"transform":[{"filter":"datum.series==='Vehicle'"}],"mark":{"type":"tick","color":"#0f9650","size":20,"thickness":2.5},"encoding":{"y":{"field":"hi","type":"quantitative"}}},
 {"data":{"name":"fBars"},"transform":[{"filter":"datum.series==='Paclitaxel'"}],"mark":{"type":"rule","color":"#000","strokeWidth":3},"encoding":{"y":{"field":"v","type":"quantitative"},"y2":{"field":"hi"}}},
 {"data":{"name":"fBars"},"transform":[{"filter":"datum.series==='Paclitaxel'"}],"mark":{"type":"tick","color":"#000","size":20,"thickness":3},"encoding":{"y":{"field":"hi","type":"quantitative"}}},
 {"data":{"values":[{"gene":"MENAᴵᴺⱽ","series":"Paclitaxel","y":50},{"gene":"MENAᴵᴺⱽ","series":"Paclitaxel","y":97},{"gene":"MENAᴵᴺⱽ","series":"Paclitaxel","y":144},{"gene":"MENAᴵᴺⱽ","series":"Paclitaxel","y":191},{"gene":"MENAᴵᴺⱽ","series":"Paclitaxel","y":238},{"gene":"MENAᴵᴺⱽ","series":"Paclitaxel","y":285},{"gene":"MENAᴵᴺⱽ","series":"Paclitaxel","y":332},{"gene":"MENAᴵᴺⱽ","series":"Paclitaxel","y":379},{"gene":"MENAᴵᴺⱽ","series":"Paclitaxel","y":426},{"gene":"MENAᴵᴺⱽ","series":"Paclitaxel","y":473},{"gene":"MENAᴵᴺⱽ","series":"Paclitaxel","y":520},{"gene":"MENAᴵᴺⱽ","series":"Paclitaxel","y":567},{"gene":"MENAᴵᴺⱽ","series":"Paclitaxel","y":614},{"gene":"MENAᴵᴺⱽ","series":"Paclitaxel","y":661},{"gene":"MENAᴵᴺⱽ","series":"Paclitaxel","y":708},{"gene":"MENAᴵᴺⱽ","series":"Paclitaxel","y":755},{"gene":"MENAᴵᴺⱽ","series":"Paclitaxel","y":802},{"gene":"MENAᴵᴺⱽ","series":"Paclitaxel","y":849},{"gene":"MENAᴵᴺⱽ","series":"Paclitaxel","y":896},{"gene":"MENAᴵᴺⱽ","series":"Paclitaxel","y":943},{"gene":"MENAᴵᴺⱽ","series":"Paclitaxel","y":990}]},"mark":{"type":"tick","color":"#111","size":36,"thickness":1.5},"encoding":{"y":{"field":"y","type":"quantitative"}}},
 {"data":{"name":"fBars"},"transform":[{"filter":"datum.star"}],"mark":{"type":"text","fontSize":24,"baseline":"middle","dy":6,"color":"#111"},"encoding":{"y":{"field":"pos","type":"quantitative"},"text":{"field":"star"}}}
 ]}]}]}
]}
